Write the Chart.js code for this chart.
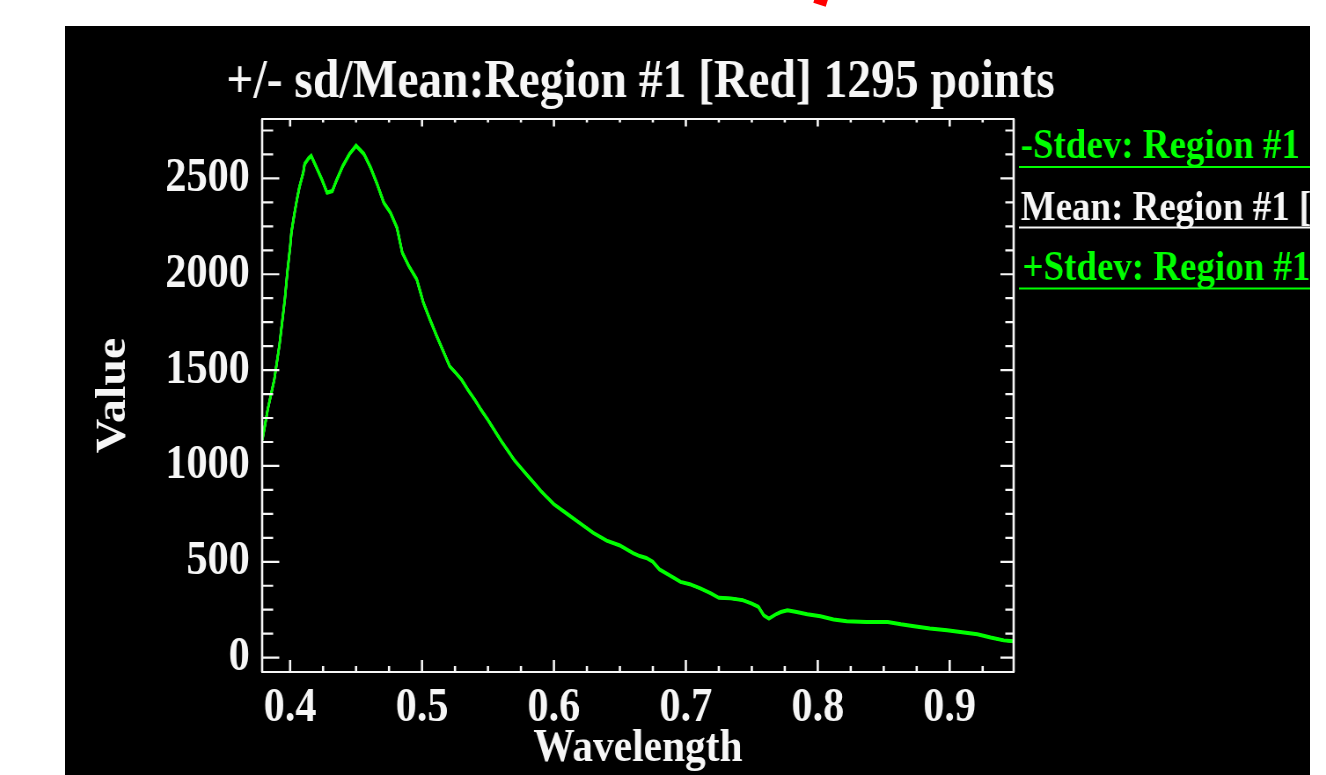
<!DOCTYPE html>
<html><head><meta charset="utf-8">
<script src="https://cdn.jsdelivr.net/npm/chart.js@4"></script>
<style>
html,body{margin:0;padding:0;background:#fff;width:1326px;height:775px;overflow:hidden;position:relative;}
#frame{position:absolute;left:65px;top:26px;width:1245px;height:749px;overflow:hidden;background:#000;}
#wrap{position:absolute;left:0;top:0;width:1415px;height:749px;transform:scaleX(0.88);transform-origin:0 0;}
#mark{position:absolute;left:815px;top:-8px;width:13px;height:13px;background:#f00;transform:rotate(18deg);}
canvas{display:block;}
</style></head>
<body>
<div id="mark"></div>
<div id="frame"><div id="wrap"><canvas id="c" width="1415" height="749"></canvas></div></div>
<script>
const chartTitle = '+/- sd/Mean:Region #1 [Red] 1295 points';
const xTitle = 'Wavelength';
const yTitle = 'Value';
const legendLabels = ['-Stdev: Region #1 [Red]', 'Mean: Region #1 [Red]', '+Stdev: Region #1 [Red]'];
const xTicks = [0.4, 0.5, 0.6, 0.7, 0.8, 0.9];
const xTickLabels = ['0.4', '0.5', '0.6', '0.7', '0.8', '0.9'];
const yTicks = [0, 500, 1000, 1500, 2000, 2500];
const yTickLabels = ['0', '500', '1000', '1500', '2000', '2500'];

const wavelengths = [
  0.379, 0.383, 0.388, 0.392, 0.396, 0.398, 0.400, 0.401, 0.403, 0.405,
  0.407, 0.410, 0.411, 0.414, 0.416, 0.420, 0.424, 0.428, 0.432, 0.435,
  0.440, 0.445, 0.450, 0.456, 0.461, 0.466, 0.471, 0.476, 0.481, 0.485,
  0.490, 0.496, 0.501, 0.506, 0.511, 0.516, 0.521, 0.525, 0.530, 0.535,
  0.540, 0.545, 0.550, 0.555, 0.560, 0.565, 0.570, 0.575, 0.580, 0.585,
  0.590, 0.595, 0.600, 0.610, 0.620, 0.630, 0.640, 0.650, 0.660, 0.665,
  0.670, 0.675, 0.680, 0.690, 0.696, 0.703, 0.711, 0.719, 0.725, 0.734,
  0.743, 0.750, 0.755, 0.759, 0.763, 0.768, 0.772, 0.777, 0.784, 0.792,
  0.802, 0.812, 0.822, 0.837, 0.853, 0.863, 0.873, 0.885, 0.898, 0.908,
  0.921, 0.931, 0.941, 0.9485
];
const meanValues = [
  1137, 1293, 1450, 1634, 1869, 2016, 2140, 2218, 2305, 2383,
  2453, 2531, 2575, 2605, 2618, 2557, 2496, 2426, 2434, 2487,
  2566, 2627, 2671, 2627, 2557, 2470, 2374, 2322, 2243, 2113,
  2043, 1974, 1852, 1764, 1680, 1600, 1520, 1490, 1450, 1395,
  1345, 1290, 1240, 1185, 1130, 1080, 1030, 990, 950, 910,
  870, 835, 800, 750, 700, 650, 610, 585, 545, 530,
  520, 500, 460, 420, 395, 383, 361, 335, 312, 309,
  300, 282, 265, 221, 204, 225, 238, 247, 238, 226,
  216, 199, 190, 186, 186, 174, 164, 152, 143, 134,
  122, 105, 90, 85
];
const minusSdValues = [
  1133, 1289, 1446, 1630, 1864, 2011, 2135, 2213, 2300, 2378,
  2448, 2526, 2570, 2600, 2613, 2552, 2491, 2421, 2429, 2482,
  2561, 2622, 2666, 2622, 2552, 2465, 2369, 2317, 2238, 2108,
  2038, 1969, 1847, 1759, 1676, 1596, 1516, 1486, 1446, 1391,
  1341, 1286, 1236, 1181, 1126, 1076, 1026, 986, 946, 906,
  866, 831, 796, 746, 696, 646, 606, 581, 541, 526,
  516, 496, 456, 416, 391, 379, 357, 331, 308, 305,
  296, 278, 261, 217, 200, 221, 234, 243, 234, 222,
  212, 195, 186, 182, 182, 170, 160, 148, 139, 130,
  118, 101, 86, 81
];
const plusSdValues = [
  1141, 1297, 1454, 1638, 1874, 2021, 2145, 2223, 2310, 2388,
  2458, 2536, 2580, 2610, 2623, 2562, 2501, 2431, 2439, 2492,
  2571, 2632, 2676, 2632, 2562, 2475, 2379, 2327, 2248, 2118,
  2048, 1979, 1857, 1769, 1684, 1604, 1524, 1494, 1454, 1399,
  1349, 1294, 1244, 1189, 1134, 1084, 1034, 994, 954, 914,
  874, 839, 804, 754, 704, 654, 614, 589, 549, 534,
  524, 504, 464, 424, 399, 387, 365, 339, 316, 313,
  304, 286, 269, 225, 208, 229, 242, 251, 242, 230,
  220, 203, 194, 190, 190, 178, 168, 156, 147, 138,
  126, 109, 94, 89
];

const FONT = "'Liberation Serif', 'Times New Roman', serif";
const WHITE = '#f6f6f6';
const GREEN = '#00ff00';

const pts = arr => wavelengths.map((w, i) => ({x: w, y: arr[i]}));

const framePlugin = {
  id: 'idlFrame',
  afterDraw(chart) {
    const {ctx, chartArea: a, scales: {x, y}} = chart;
    ctx.save();
    ctx.strokeStyle = WHITE;
    ctx.lineCap = 'butt';
    ctx.lineWidth = 2.2;
    ctx.beginPath();
    ctx.moveTo(a.left - 1, a.top); ctx.lineTo(a.right + 1, a.top);
    ctx.moveTo(a.left - 1, a.bottom); ctx.lineTo(a.right + 1, a.bottom);
    for (let v = 0; v <= y.max; v += 125) {
      const p = y.getPixelForValue(v);
      const major = v % 500 === 0;
      ctx.moveTo(a.left, p); ctx.lineTo(a.left + (major ? 19.5 : 12.5), p);
      ctx.moveTo(a.right, p); ctx.lineTo(a.right - (major ? 15 : 9.5), p);
    }
    ctx.stroke();
    ctx.lineWidth = 2.6;
    ctx.beginPath();
    ctx.moveTo(a.left, a.top); ctx.lineTo(a.left, a.bottom);
    ctx.moveTo(a.right, a.top); ctx.lineTo(a.right, a.bottom);
    for (let k = 0; k <= 22; k++) {
      const v = 0.4 + k * 0.025;
      if (v > x.max) break;
      const p = x.getPixelForValue(v);
      const major = k % 4 === 0;
      ctx.moveTo(p, a.bottom); ctx.lineTo(p, a.bottom - (major ? 12 : 6));
      ctx.moveTo(p, a.top); ctx.lineTo(p, a.top + (major ? 7.5 : 3.5));
    }
    ctx.stroke();

    ctx.fillStyle = WHITE;
    ctx.font = 'bold 54px ' + FONT;
    ctx.textAlign = 'center';
    ctx.textBaseline = 'alphabetic';
    ctx.fillText(chartTitle, (a.left + a.right) / 2 + 3, 71);

    const colors = [GREEN, WHITE, GREEN];
    const baselines = [132, 194, 254];
    const lines = [141, 201.5, 262.5];
    ctx.font = 'bold 42px ' + FONT;
    ctx.textAlign = 'left';
    for (let i = 0; i < 3; i++) {
      ctx.fillStyle = colors[i];
      ctx.fillText(legendLabels[i], a.right + 8 + (i === 2 ? 2 : 0), baselines[i]);
      ctx.strokeStyle = colors[i];
      ctx.lineWidth = 2;
      ctx.beginPath();
      ctx.moveTo(a.right + 6, lines[i]); ctx.lineTo(chart.width, lines[i]);
      ctx.stroke();
    }
    ctx.restore();
  }
};

new Chart(document.getElementById('c'), {
  type: 'line',
  data: {
    datasets: [
      {label: legendLabels[0], data: pts(minusSdValues), borderColor: GREEN, borderWidth: 2.4, pointRadius: 0, tension: 0, fill: false},
      {label: legendLabels[2], data: pts(plusSdValues), borderColor: GREEN, borderWidth: 2.4, pointRadius: 0, tension: 0, fill: false},
      {label: legendLabels[1], data: pts(meanValues), borderColor: WHITE, borderWidth: 2.6, pointRadius: 0, tension: 0, fill: false}
    ]
  },
  options: {
    responsive: false,
    animation: false,
    devicePixelRatio: 1,
    layout: {padding: {left: 0, right: 337, top: 93, bottom: 0}},
    plugins: {legend: {display: false}, tooltip: {enabled: false}, title: {display: false}},
    scales: {
      x: {
        type: 'linear', min: 0.3788, max: 0.9485,
        afterFit(s) { s.height = 103; },
        afterBuildTicks(s) { s.ticks = xTicks.map(v => ({value: v})); },
        grid: {display: false}, border: {display: false},
        ticks: {color: WHITE, font: {family: FONT, weight: 'bold', size: 48}, padding: 0, maxRotation: 0, autoSkip: false,
                callback: (v, i) => xTickLabels[i]},
        title: {display: true, text: xTitle, color: WHITE, font: {family: FONT, weight: 'bold', size: 47}, padding: {top: 0, bottom: -2}}
      },
      y: {
        type: 'linear', min: -75, max: 2810,
        afterFit(s) { s.width = 224; },
        afterBuildTicks(s) { s.ticks = yTicks.map(v => ({value: v})); },
        grid: {display: false}, border: {display: false},
        ticks: {color: WHITE, font: {family: FONT, weight: 'bold', size: 48}, padding: 6, autoSkip: false,
                callback: (v, i) => yTickLabels[i]},
        title: {display: true, text: yTitle, color: WHITE, font: {family: FONT, weight: 'bold', size: 48}, padding: {top: 27, bottom: 0}}
      }
    }
  },
  plugins: [framePlugin]
});
</script>
</body></html>
